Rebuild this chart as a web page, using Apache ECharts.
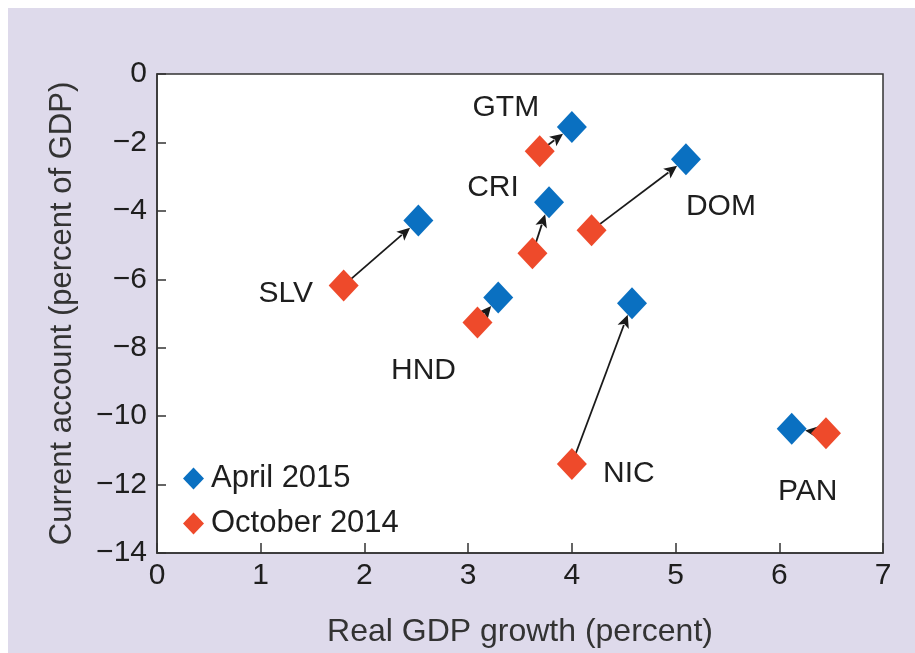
<!DOCTYPE html>
<html>
<head>
<meta charset="utf-8">
<script src="https://cdn.jsdelivr.net/npm/echarts@6/dist/echarts.min.js"></script>
<style>
  html, body { margin: 0; padding: 0; background: #ffffff; }
  #chart { position: absolute; left: 8px; top: 8px; width: 907px; height: 645px; background: #dedaeb; }
</style>
</head>
<body>
<div id="chart"></div>
<script>
// countries, real GDP growth (x) and current account (y)
const countries = ['GTM', 'CRI', 'DOM', 'SLV', 'HND', 'NIC', 'PAN']
const aprilX = [4.0, 3.78, 5.1, 2.52, 3.29, 4.58, 6.12]
const aprilY = [-1.55, -3.75, -2.49, -4.28, -6.53, -6.7, -10.37]
const octX = [3.69, 3.62, 4.19, 1.8, 3.09, 4.0, 6.45]
const octY = [-2.26, -5.24, -4.57, -6.18, -7.26, -11.4, -10.5]
const xTicks = [0, 1, 2, 3, 4, 5, 6, 7]
const yTicks = [0, -2, -4, -6, -8, -10, -12, -14]

// label placement (pixels, relative to the marker the label is attached to)
const labelOn = { GTM: 'apr', CRI: 'apr', DOM: 'apr', SLV: 'oct', HND: 'oct', NIC: 'oct', PAN: 'apr' }
const labelOffset = {
  GTM: [-66, -19], CRI: [-56, -15], DOM: [35, 48], SLV: [-58, 8],
  HND: [-54, 48], NIC: [57, 10], PAN: [16, 63]
}

const BLUE = '#0a70c1'
const RED = '#ee4a2b'
const FONT = 'Liberation Sans, Arial, sans-serif'
const SYM = [30, 32]

const myChart = echarts.init(document.getElementById('chart'))

const pointData = (xs, ys, key) => countries.map((c, i) => {
  const item = { name: c, value: [xs[i], ys[i]] }
  if (labelOn[c] === key) {
    item.label = {
      show: true, formatter: c, position: 'inside', offset: labelOffset[c],
      fontSize: 30, color: '#1e1e1e', fontFamily: FONT
    }
  }
  return item
})

const arrowData = countries.map((c, i) => [octX[i], octY[i], aprilX[i], aprilY[i]])

// arrow from the October point to the edge of the April diamond
const renderArrow = (params, api) => {
  const p0 = api.coord([api.value(0), api.value(1)])
  const p1 = api.coord([api.value(2), api.value(3)])
  const dx = p1[0] - p0[0], dy = p1[1] - p0[1]
  const len = Math.sqrt(dx * dx + dy * dy)
  const ux = dx / len, uy = dy / len
  const edge = 1 / (Math.abs(ux) / (SYM[0] / 2) + Math.abs(uy) / (SYM[1] / 2))
  const tip = [p1[0] - ux * edge, p1[1] - uy * edge]
  const hl = 13, hw = 6
  const base = [tip[0] - ux * hl, tip[1] - uy * hl]
  const nx = -uy, ny = ux
  return {
    type: 'group',
    children: [
      {
        type: 'line',
        shape: { x1: p0[0], y1: p0[1], x2: base[0] + ux * 2, y2: base[1] + uy * 2 },
        style: { stroke: '#1a1a1a', lineWidth: 1.8 }
      },
      {
        type: 'polygon',
        shape: { points: [tip, [base[0] + nx * hw, base[1] + ny * hw], [base[0] + ux * 3, base[1] + uy * 3], [base[0] - nx * hw, base[1] - ny * hw]] },
        style: { fill: '#1a1a1a' }
      }
    ]
  }
}

const option = {
  animation: false,
  grid: {
    left: 149, right: 32, top: 66, bottom: 100,
    show: true, backgroundColor: '#ffffff', borderColor: '#333', borderWidth: 1.5
  },
  legend: {
    orient: 'vertical', left: 170, top: 450, itemGap: 14,
    itemWidth: 21, itemHeight: 22,
    textStyle: { fontSize: 31, color: '#1e1e1e', fontFamily: FONT, padding: [0, 0, 0, 2] },
    data: [
      { name: 'April 2015', icon: 'diamond' },
      { name: 'October 2014', icon: 'diamond' }
    ]
  },
  xAxis: {
    type: 'value', min: 0, max: 7, interval: 1,
    name: 'Real GDP growth (percent)', nameLocation: 'middle', nameGap: 63,
    nameTextStyle: { fontSize: 32, color: '#333', fontFamily: FONT },
    axisLine: { show: true, onZero: false, lineStyle: { color: '#333', width: 1.5 } },
    axisTick: { show: true, inside: true, length: 10, lineStyle: { color: '#333', width: 1.5 } },
    axisLabel: {
      fontSize: 30, color: '#1e1e1e', fontFamily: FONT, margin: 8,
      formatter: v => xTicks.includes(v) ? String(v) : ''
    },
    splitLine: { show: false }
  },
  yAxis: {
    type: 'value', min: -14, max: 0, interval: 2,
    name: 'Current account (percent of GDP)', nameLocation: 'middle', nameGap: 79,
    nameTextStyle: { fontSize: 31, color: '#333', fontFamily: FONT },
    axisLine: { show: true, onZero: false, lineStyle: { color: '#333', width: 1.5 } },
    axisTick: { show: true, inside: true, length: 9, lineStyle: { color: '#333', width: 1.5 } },
    axisLabel: {
      fontSize: 30, color: '#1e1e1e', fontFamily: FONT, margin: 10,
      formatter: v => yTicks.includes(v) ? String(v).replace('-', '\u2212') : ''
    },
    splitLine: { show: false }
  },
  series: [
    {
      type: 'custom', name: 'arrows', z: 1,
      renderItem: renderArrow,
      encode: { x: [0, 2], y: [1, 3] },
      data: arrowData
    },
    {
      type: 'scatter', name: 'October 2014', z: 2,
      symbol: 'diamond', symbolSize: SYM,
      itemStyle: { color: RED, opacity: 1 },
      data: pointData(octX, octY, 'oct')
    },
    {
      type: 'scatter', name: 'April 2015', z: 3,
      symbol: 'diamond', symbolSize: SYM,
      itemStyle: { color: BLUE, opacity: 1 },
      data: pointData(aprilX, aprilY, 'apr')
    }
  ]
}

myChart.setOption(option)
window.addEventListener('resize', myChart.resize)
</script>
</body>
</html>
